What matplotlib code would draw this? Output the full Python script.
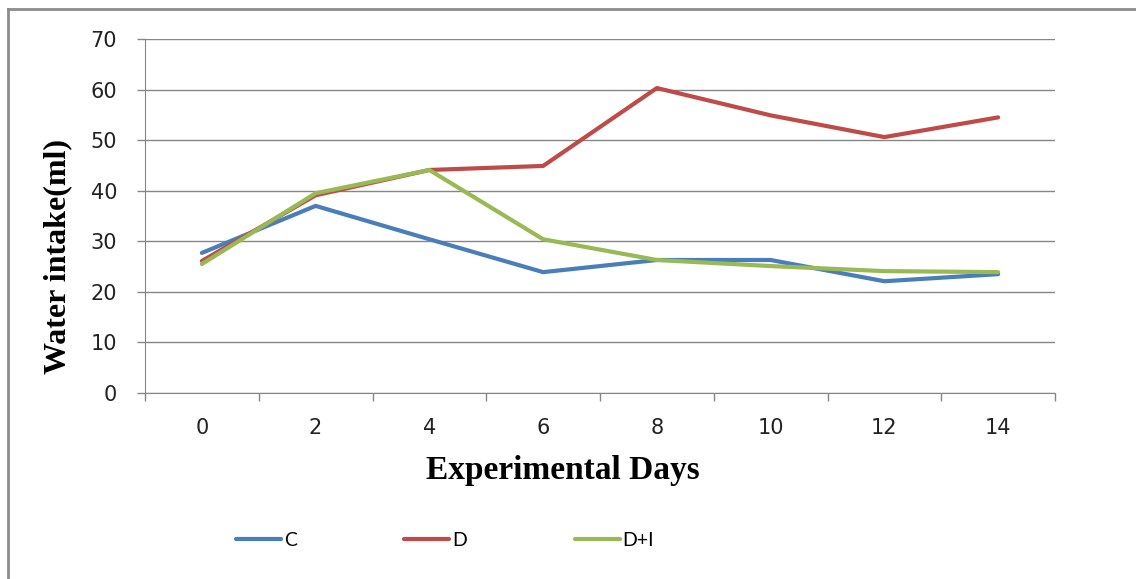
import matplotlib
matplotlib.use("Agg")
import matplotlib.pyplot as plt
from matplotlib.lines import Line2D
import numpy as np

days = ["0", "2", "4", "6", "8", "10", "12", "14"]
c_vals = [27.7, 37.0, 30.4, 23.9, 26.3, 26.3, 22.1, 23.5]
d_vals = [26.1, 39.1, 44.1, 44.9, 60.3, 54.9, 50.6, 54.5]
di_vals = [25.5, 39.5, 44.1, 30.4, 26.3, 25.1, 24.1, 23.9]
series_names = ["C", "D", "D+I"]
colors = ["#4A7EBB", "#BE4B48", "#98B954"]

fig = plt.figure(figsize=(11.36, 5.79), dpi=100)
ax = fig.add_axes([145/1136, 1-393/579, (1055-145)/1136, (393-39)/579])

x = np.arange(len(days))
for vals, name, col in zip([c_vals, d_vals, di_vals], series_names, colors):
    ax.plot(x, vals, color=col, lw=3.0, label=name, solid_capstyle="round", solid_joinstyle="round")

ax.set_xlim(-0.5, len(days) - 0.5)
ax.set_ylim(0, 70)
ax.set_yticks(np.arange(0, 71, 10))
ax.set_xticks(x)
ax.set_xticklabels(days)
ax.set_xticks(np.arange(-0.5, len(days), 1.0), minor=True)

grid_col = "#868686"
ax.yaxis.grid(True, color=grid_col, lw=1.0)
ax.set_axisbelow(True)
for s in ["top", "right"]:
    ax.spines[s].set_visible(False)
ax.spines["left"].set_color(grid_col)
ax.spines["bottom"].set_color(grid_col)

ax.tick_params(axis="y", which="major", length=6, color=grid_col, width=1.0,
               labelsize=15, pad=14, labelcolor="#222222")
ax.tick_params(axis="x", which="major", length=0, labelsize=15, pad=18, labelcolor="#222222")
ax.tick_params(axis="x", which="minor", length=6, color=grid_col, width=1.0, direction="out")
for lab in ax.get_xticklabels() + ax.get_yticklabels():
    lab.set_fontfamily("DejaVu Sans")

fig.text(563/1136, 1-470/579, "Experimental Days", ha="center", va="center",
         fontsize=24, fontweight="bold", family="Liberation Serif")
fig.text(58/1136, 1-257/579, "Water intake(ml)", ha="center", va="center", rotation=90,
         fontsize=23, fontweight="bold", family="Liberation Serif")

leg = fig.legend(loc="center", bbox_to_anchor=(445/1136, 1-540/579), ncol=3, frameon=False,
                 handlelength=2.3, handletextpad=0.15, columnspacing=5.55,
                 prop={"family": "Lato", "size": 14})

# outer chart frame (top and left edges visible)
fig.add_artist(Line2D([8/1136, 8/1136], [0, 1-9/579], transform=fig.transFigure, color="#8C8C8C", lw=2))
fig.add_artist(Line2D([8/1136, 1], [1-9/579, 1-9/579], transform=fig.transFigure, color="#8C8C8C", lw=2))

fig.savefig("out.png", dpi=100)
